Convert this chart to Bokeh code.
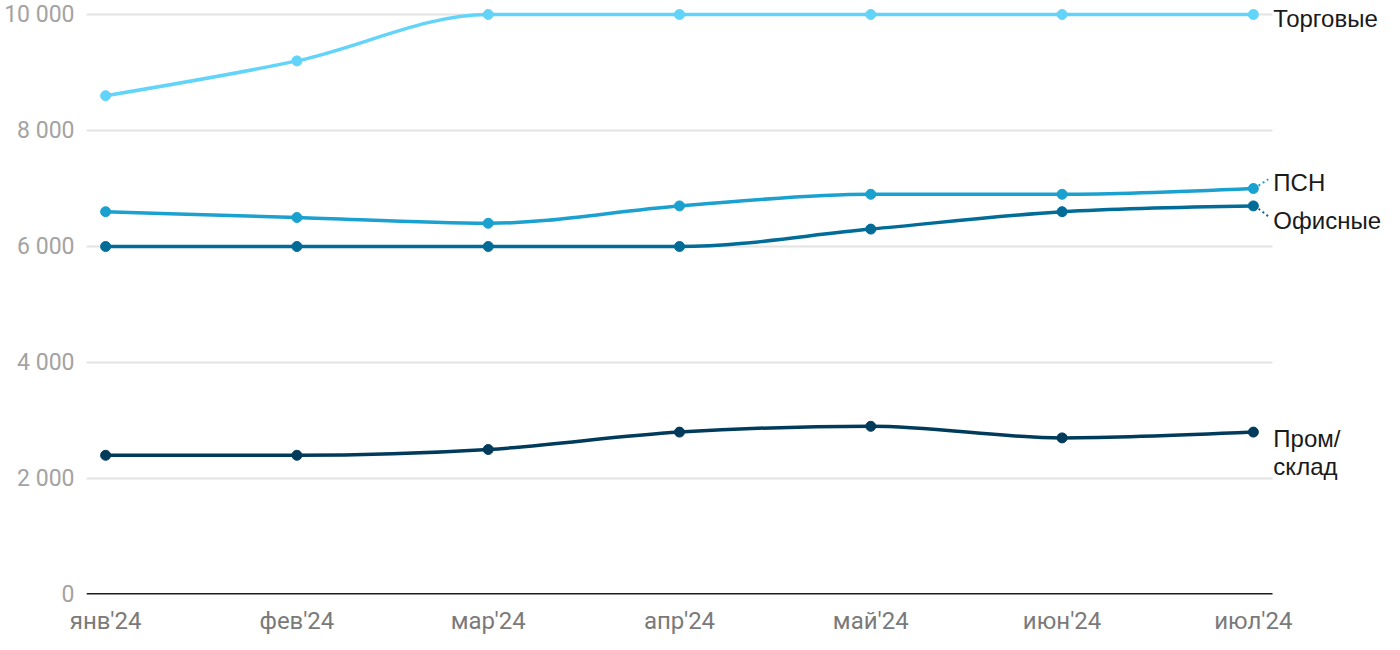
from bokeh.plotting import figure
from bokeh.models import Range1d, FixedTicker
from bokeh.core.properties import value
from bokeh.embed import file_html
from bokeh.resources import INLINE

months = ["янв'24", "фев'24", "мар'24", "апр'24", "май'24", "июн'24", "июл'24"]
torg = [8600, 9200, 10000, 10000, 10000, 10000, 10000]
psn = [6600, 6500, 6400, 6700, 6900, 6900, 7000]
ofis = [6000, 6000, 6000, 6000, 6300, 6600, 6700]
prom = [2400, 2400, 2500, 2800, 2900, 2700, 2800]
y_ticks = [0, 2000, 4000, 6000, 8000, 10000]

series = [
    ("Торговые", torg, "#62d4fa"),
    ("ПСН", psn, "#1ba1cf"),
    ("Офисные", ofis, "#006c97"),
    ("Пром/склад", prom, "#013b5c"),
]

def monotone_tangents(xs, ys):
    n = len(xs)
    t = [0.0] * n
    for i in range(1, n - 1):
        h0 = xs[i] - xs[i - 1]
        h1 = xs[i + 1] - xs[i]
        s0 = (ys[i] - ys[i - 1]) / h0
        s1 = (ys[i + 1] - ys[i]) / h1
        p_ = (s0 * h1 + s1 * h0) / (h0 + h1)
        sg = (1 if s0 > 0 else -1 if s0 < 0 else 0) + (1 if s1 > 0 else -1 if s1 < 0 else 0)
        t[i] = sg * min(abs(s0), abs(s1), 0.5 * abs(p_)) if sg else 0.0
    if n > 1:
        h = xs[1] - xs[0]
        t[0] = (3 * (ys[1] - ys[0]) / h - t[1]) / 2
        h = xs[-1] - xs[-2]
        t[-1] = (3 * (ys[-1] - ys[-2]) / h - t[-2]) / 2
    return t

xs = list(range(len(months)))
last = len(xs) - 1

# layout: plot area spans x_lo..x_hi, extra room on the right for the series labels
x_lo, x_hi = -0.1, last + 0.1
W, H = 1384, 642
left_b, top_b, bot_b = 86, 4, 48
px_per_unit = (1272 - 86) / (x_hi - x_lo)
x_end = x_lo + (W - left_b) / px_per_unit
y_top = 10000 + (14 - top_b) / 0.058

p = figure(width=W, height=H, output_backend="svg", toolbar_location=None,
           x_range=Range1d(x_lo, x_end), y_range=Range1d(0, y_top),
           min_border_left=left_b, min_border_right=0, min_border_top=top_b,
           min_border_bottom=bot_b)
p.outline_line_color = None
p.xgrid.grid_line_color = None
p.ygrid.grid_line_color = None
p.yaxis.ticker = FixedTicker(ticks=y_ticks)
p.yaxis.major_label_overrides = {v: f"{v:,}".replace(",", " ") for v in y_ticks}
p.yaxis.axis_line_color = None
p.yaxis.major_tick_line_color = None
p.yaxis.minor_tick_line_color = None
p.yaxis.major_label_text_font = "Roboto"
p.yaxis.major_label_text_font_size = "23px"
p.yaxis.major_label_text_color = "#a3a3a3"
p.yaxis.major_label_standoff = 6
p.xaxis.ticker = FixedTicker(ticks=xs)
p.xaxis.major_label_overrides = {i: m for i, m in enumerate(months)}
p.xaxis.axis_line_color = None
p.xaxis.major_tick_line_color = None
p.xaxis.minor_tick_line_color = None
p.xaxis.major_label_text_font = "Roboto"
p.xaxis.major_label_text_font_size = "24px"
p.xaxis.major_label_text_color = "#7a7a7a"
p.xaxis.major_label_standoff = 6

# horizontal grid lines limited to the plot area
grid_y = [v for v in y_ticks if v > 0]
p.segment(x0=[x_lo] * len(grid_y), y0=grid_y, x1=[x_hi] * len(grid_y), y1=grid_y,
          line_color="#e3e3e3", line_width=2)
# baseline
p.segment(x0=[x_lo], y0=[0], x1=[x_hi], y1=[0], line_color="#1a1a1a", line_width=3)

for name, ys, color in series:
    t = monotone_tangents(xs, ys)
    x0, y0, x1, y1, cx0, cy0, cx1, cy1 = [], [], [], [], [], [], [], []
    for i in range(len(xs) - 1):
        dx = (xs[i + 1] - xs[i]) / 3
        x0.append(xs[i]); y0.append(ys[i])
        x1.append(xs[i + 1]); y1.append(ys[i + 1])
        cx0.append(xs[i] + dx); cy0.append(ys[i] + dx * t[i])
        cx1.append(xs[i + 1] - dx); cy1.append(ys[i + 1] - dx * t[i + 1])
    p.bezier(x0=x0, y0=y0, x1=x1, y1=y1, cx0=cx0, cy0=cy0, cx1=cx1, cy1=cy1,
             line_color=color, line_width=3.5)
    p.scatter(xs, ys, size=10, fill_color=color, line_color=color)

# connectors for the two close labels
p.segment(x0=[last + 0.027], y0=[psn[-1] + 50], x1=[last + 0.078], y1=[psn[-1] + 160],
          line_color=series[1][2], line_width=2, line_dash="2 3")
p.segment(x0=[last + 0.027], y0=[ofis[-1] - 50], x1=[last + 0.078], y1=[ofis[-1] - 180],
          line_color=series[2][2], line_width=2, line_dash="2 3")

lab_x = [last] * 5
lab_y = [torg[-1], psn[-1], ofis[-1], prom[-1], prom[-1]]
lab_t = ["Торговые", "ПСН", "Офисные", "Пром/", "склад"]
lab_dy = [4, -6, 15, 6, 34]
p.text(x=lab_x, y=lab_y, text=lab_t, x_offset=20, y_offset=lab_dy,
       text_font=value("Liberation Sans"), text_font_size="24px", text_color="#1a1a1a",
       text_baseline="middle", text_align="left")

open("out.html", "w").write(file_html(p, INLINE))
